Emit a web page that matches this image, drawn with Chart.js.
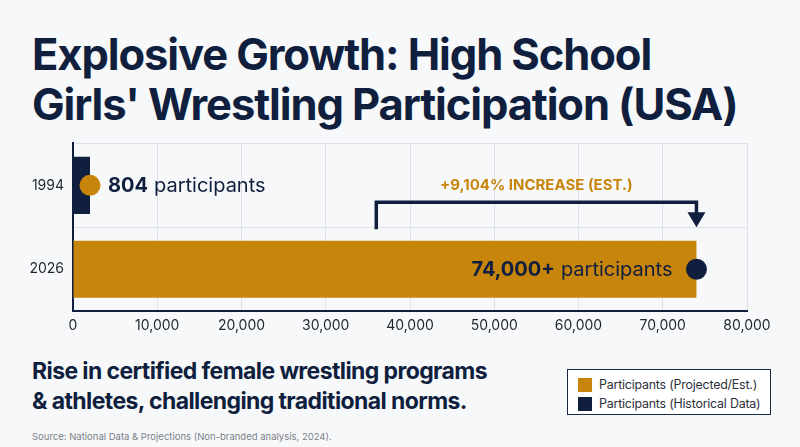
<!DOCTYPE html>
<html>
<head>
<meta charset="utf-8">
<script src="https://cdn.jsdelivr.net/npm/chart.js@4"></script>
<style>
  body { margin: 0; background: #f7f8fa; font-family: "Inter", "Noto Sans", sans-serif; color: #0f1f3d; }
  #wrap { position: relative; width: 800px; height: 447px; overflow: hidden; }
  h1 { position: absolute; left: 32px; top: 29px; margin: 0; font-size: 43.5px; line-height: 50px; font-weight: 700; letter-spacing: -1.1px; color: #0f1f3d; }
  #box { position: absolute; left: 0; top: 126px; width: 800px; height: 220px; }
  #sub { position: absolute; left: 32px; top: 356px; margin: 0; font-size: 23px; line-height: 30px; font-weight: 700; letter-spacing: -0.6px; color: #0f1f3d; }
  #src { position: absolute; left: 32px; top: 431px; font-size: 9.5px; color: #7a7f88; }
  #legend { position: absolute; left: 567px; top: 369px; width: 204px; height: 46px; border: 1px solid #1c2a44; background: #fff; box-sizing: border-box; padding: 5px 0 0 10px; }
  .item { display: flex; align-items: center; height: 19px; font-size: 12.4px; color: #2b2f38; letter-spacing: -0.2px; }
  .sw { width: 14px; height: 14px; margin-right: 7px; }
</style>
</head>
<body>
<div id="wrap">
  <h1>Explosive Growth: High School<br>Girls' Wrestling Participation (USA)</h1>
  <div id="box"><canvas id="chart" width="800" height="220"></canvas></div>
  <p id="sub">Rise in certified female wrestling programs<br>&amp; athletes, challenging traditional norms.</p>
  <div id="legend"></div>
  <div id="src">Source: National Data &amp; Projections (Non-branded analysis, 2024).</div>
</div>
<script>
const years = ["1994", "2026"];
const historico = [804, null];
const proyectado = [null, 74000];
const xTicks = [0, 10000, 20000, 30000, 40000, 50000, 60000, 70000, 80000];
const etiquetas = ["804", "74,000+"];
const bracketInicio = 36000; // donde arranca el corchete

const NAVY = "#0f1f3d";
const ORANGE = "#c8850b";

const aumento = Math.round((74000 - 804) / 804 * 100);

const extras = {
  id: "extras",
  afterDatasetsDraw(chart) {
    const ctx = chart.ctx;
    const x = chart.scales.x;
    const y = chart.scales.y;
    const bar94 = chart.getDatasetMeta(1).data[0];
    const bar26 = chart.getDatasetMeta(0).data[1];

    // puntos al final de las barras
    ctx.save();
    ctx.fillStyle = ORANGE;
    ctx.beginPath();
    ctx.arc(bar94.x, bar94.y, 10.5, 0, Math.PI * 2);
    ctx.fill();
    ctx.fillStyle = NAVY;
    ctx.beginPath();
    ctx.arc(bar26.x, bar26.y, 10.5, 0, Math.PI * 2);
    ctx.fill();

    // etiqueta 1994
    ctx.textBaseline = "middle";
    ctx.textAlign = "left";
    ctx.fillStyle = NAVY;
    ctx.font = "700 20px Inter";
    let tx = bar94.x + 18;
    ctx.fillText(etiquetas[0], tx, bar94.y + 1);
    tx += ctx.measureText(etiquetas[0]).width + 6;
    ctx.font = "400 20px Inter";
    ctx.fillText("participants", tx, bar94.y + 1);

    // etiqueta 2026
    ctx.textAlign = "right";
    ctx.font = "400 20px Inter";
    let rx = bar26.x - 24;
    ctx.fillText("participants", rx, bar26.y + 1);
    rx -= ctx.measureText("participants").width + 6;
    ctx.font = "700 20px Inter";
    ctx.fillText(etiquetas[1], rx, bar26.y + 1);

    // corchete con flecha
    const x0 = x.getPixelForValue(bracketInicio);
    const x1 = bar26.x;
    const yTop = y.getPixelForValue(0.2);
    const yBot = y.getPixelForValue(0.5);
    ctx.strokeStyle = NAVY;
    ctx.lineWidth = 3.5;
    ctx.lineJoin = "miter";
    ctx.beginPath();
    ctx.moveTo(x0, yBot + 2);
    ctx.lineTo(x0, yTop);
    ctx.lineTo(x1, yTop);
    ctx.lineTo(x1, yBot - 14);
    ctx.stroke();
    ctx.fillStyle = NAVY;
    ctx.beginPath();
    ctx.moveTo(x1 - 9, yBot - 15);
    ctx.lineTo(x1 + 9, yBot - 15);
    ctx.lineTo(x1, yBot);
    ctx.closePath();
    ctx.fill();

    ctx.textAlign = "center";
    ctx.fillStyle = ORANGE;
    ctx.font = "700 15px Inter";
    ctx.fillText("+" + aumento.toLocaleString("en-US") + "% INCREASE (EST.)", (x0 + x1) / 2, y.getPixelForValue(0));
    ctx.restore();
  },
};

const chart = new Chart(document.getElementById("chart").getContext("2d"), {
  type: "bar",
  data: {
    labels: years,
    datasets: [
      {
        label: "Participants (Projected/Est.)",
        data: proyectado,
        backgroundColor: ORANGE,
        minBarLength: 17,
      },
      {
        label: "Participants (Historical Data)",
        data: historico,
        backgroundColor: NAVY,
        minBarLength: 17,
      },
    ],
  },
  options: {
    indexAxis: "y",
    responsive: false,
    animation: false,
    grouped: false,
    barPercentage: 0.85,
    categoryPercentage: 0.8,
    layout: { padding: { top: 2, right: 53, left: 0, bottom: 6 } },
    scales: {
      x: {
        min: 0,
        max: 80000,
        afterBuildTicks(scale) {
          scale.ticks = xTicks.map((v) => ({ value: v }));
        },
        ticks: {
          color: "#1f2430",
          font: { family: "Inter", size: 14 },
          padding: 6,
          callback: (v) => v.toLocaleString("en-US"),
        },
        grid: { color: "#dfe2e7", lineWidth: 1, drawTicks: false },
        border: { color: NAVY, width: 2 },
      },
      y: {
        afterFit(scale) {
          scale.width = 73;
        },
        ticks: {
          color: "#1f2430",
          font: { family: "Inter", size: 14 },
          padding: 9,
        },
        grid: { color: "#dfe2e7", lineWidth: 1, drawTicks: false },
        border: { color: NAVY, width: 2 },
      },
    },
    plugins: {
      legend: { display: false },
      tooltip: { enabled: false },
    },
  },
  plugins: [extras],
});

// leyenda en HTML a partir de los datasets
const legend = document.getElementById("legend");
chart.data.datasets.forEach((ds) => {
  const item = document.createElement("div");
  item.className = "item";
  item.innerHTML = '<span class="sw" style="background:' + ds.backgroundColor + '"></span>' + ds.label;
  legend.appendChild(item);
});
</script>
</body>
</html>
